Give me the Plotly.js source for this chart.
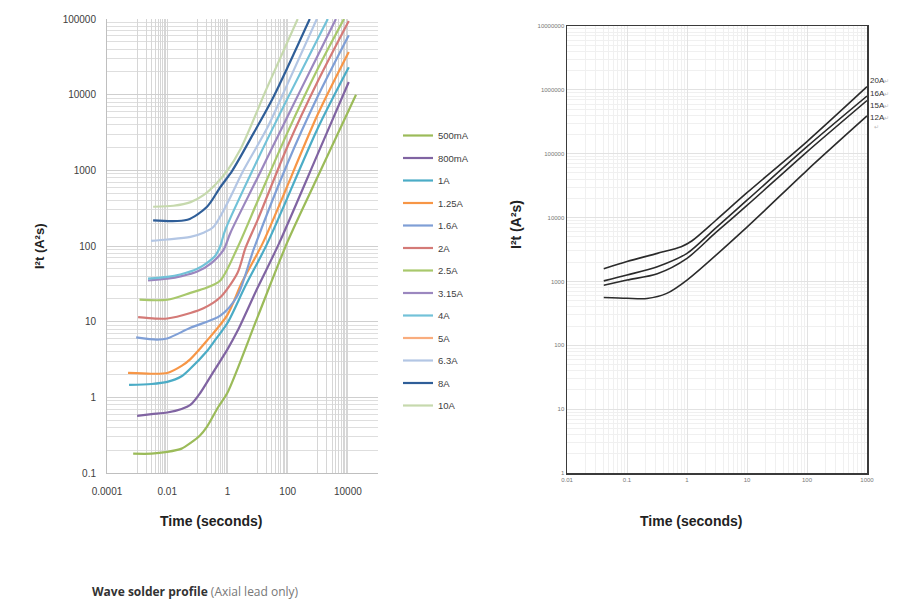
<!DOCTYPE html>
<html>
<head>
<meta charset="utf-8">
<script src="https://cdn.plot.ly/plotly-3.0.1.min.js"></script>
<style>
  html, body { margin: 0; padding: 0; background: #fff; }
  #chart { width: 921px; height: 611px; }
</style>
</head>
<body>
<div id="chart"></div>
<script>
// ---- Left chart: I²t vs time for each fuse rating ----
const fuseNames = ['500mA', '800mA', '1A', '1.25A', '1.6A', '2A', '2.5A', '3.15A', '4A', '5A', '6.3A', '8A', '10A'];

const t500mA = [0.00074, 0.003, 0.01, 0.03, 0.06, 0.12, 0.21, 0.5, 1, 10, 100, 1000, 18600];
const i2t500mA = [0.18, 0.18, 0.19, 0.21, 0.25, 0.31, 0.41, 0.75, 1.15, 11.5, 115, 830, 10000];

const t800mA = [0.001, 0.003, 0.01, 0.03, 0.06, 0.126, 0.3, 1, 2.15, 10, 50, 1000, 10700];
const i2t800mA = [0.57, 0.6, 0.63, 0.7, 0.8, 1.15, 2.0, 4.3, 7.5, 28, 105, 1650, 14700];

const t1A = [0.00054, 0.003, 0.01, 0.03, 0.059, 0.2, 0.4, 1, 4, 21.5, 1000, 10700];
const i2t1A = [1.46, 1.5, 1.6, 1.9, 2.4, 4.0, 5.8, 9.6, 30, 110, 3600, 23000];

const t1_25A = [0.0005, 0.003, 0.01, 0.03, 0.059, 0.2, 1, 3, 15, 1000, 10700];
const i2t1_25A = [2.1, 2.05, 2.1, 2.6, 3.2, 5.5, 12.3, 33, 110, 5500, 36700];

const t1_6A = [0.00093, 0.0046, 0.01, 0.059, 0.58, 2.15, 7.4, 100, 1000, 10700];
const i2t1_6A = [6.2, 5.8, 6.0, 8.3, 12, 22, 90, 1250, 9500, 61000];

const t2A = [0.00108, 0.004, 0.01, 0.059, 0.16, 0.58, 2.15, 4, 10, 100, 1000, 10700];
const i2t2A = [11.5, 11, 11, 13, 15, 21, 44, 95, 220, 2100, 15000, 94000];

const t2_5A = [0.0012, 0.01, 0.059, 0.2, 0.58, 2.15, 10, 100, 1000, 7400];
const i2t2_5A = [19.5, 19.5, 24, 28, 35, 95, 390, 3200, 22000, 100000];

const t3_15A = [0.0023, 0.01, 0.03, 0.1, 0.3, 0.74, 1.26, 10, 100, 1000, 4000];
const i2t3_15A = [35, 37, 40, 46, 60, 89, 150, 800, 5200, 33000, 100000];

const t4A = [0.0023, 0.01, 0.027, 0.1, 0.21, 0.4, 0.58, 0.83, 10, 100, 2150];
const i2t4A = [37, 39, 42, 50, 60, 75, 100, 160, 1380, 9000, 100000];

// 5A has no visible curve in the reference, only its legend entry
const t5A = [null];
const i2t5A = [null];

const t6_3A = [0.0029, 0.01, 0.059, 0.16, 0.34, 1, 3.4, 21.5, 100, 930];
const i2t6_3A = [117, 122, 132, 150, 178, 370, 1000, 3700, 14000, 100000];

const t8A = [0.0034, 0.047, 0.21, 0.58, 1.47, 7.4, 34, 540];
const i2t8A = [218, 222, 330, 600, 1000, 3100, 9400, 100000];

const t10A = [0.0034, 0.016, 0.06, 0.16, 0.4, 1, 2.7, 20, 215];
const i2t10A = [330, 340, 380, 470, 650, 1000, 1900, 12000, 100000];

const fuseTimes = [t500mA, t800mA, t1A, t1_25A, t1_6A, t2A, t2_5A, t3_15A, t4A, t5A, t6_3A, t8A, t10A];
const fuseI2t = [i2t500mA, i2t800mA, i2t1A, i2t1_25A, i2t1_6A, i2t2A, i2t2_5A, i2t3_15A, i2t4A, i2t5A, i2t6_3A, i2t8A, i2t10A];
const fuseColors = ['#9bbb59', '#8064a2', '#4bacc6', '#f79646', '#7f9fd6', '#d47a77', '#a8c86c',
                    '#9b87bf', '#72c2d8', '#f9ad7e', '#b3c6e4', '#2f5e98', '#c6d9ad'];

const leftXLabels = ['0.0001', '0.01', '1', '100', '10000'];
const leftYLabels = ['0.1', '1', '10', '100', '1000', '10000', '100000'];

// ---- Right chart: high-current ratings ----
const bigNames = ['20A', '16A', '15A', '12A'];

const t20A = [0.041, 0.1, 0.32, 0.8, 1.2, 3, 10, 100, 1000];
const i2t20A = [1585, 2050, 2750, 3500, 4300, 9000, 24500, 155000, 1120000];

const t16A = [0.041, 0.1, 0.32, 1, 3, 10, 100, 1000];
const i2t16A = [1020, 1260, 1700, 2750, 6850, 18700, 129000, 800000];

const t15A = [0.041, 0.1, 0.32, 1, 3, 10, 100, 1000];
const i2t15A = [870, 1050, 1320, 2300, 5800, 15500, 107000, 680000];

const t12A = [0.041, 0.1, 0.215, 0.46, 1, 10, 100, 1000];
const i2t12A = [560, 545, 540, 650, 1050, 7100, 55000, 390000];

const bigTimes = [t20A, t16A, t15A, t12A];
const bigI2t = [i2t20A, i2t16A, i2t15A, i2t12A];

const rightXLabels = ['0.01', '0.1', '1', '10', '100', '1000'];
const rightYLabels = ['1', '10', '100', '1000', '10000', '100000', '1000000', '10000000'];

// gridline positions for left x axis: every decade, plus 2..9 only in alternate decades
function leftXGrid() {
    const vals = [];
    const text = [];
    for (let d = -4; d <= 5; d++) {
        vals.push(Math.pow(10, d));
        text.push(d % 2 === 0 && d <= 4 ? leftXLabels[(d + 4) / 2] : '');
        if (d % 2 !== 0 && d < 5) {
            for (let k = 2; k <= 9; k++) {
                vals.push(k * Math.pow(10, d));
                text.push('');
            }
        }
    }
    return { vals, text };
}

const W = 921, H = 611;
const px = v => v / W;
const py = v => (H - v) / H;

const traces = [];
fuseNames.forEach((name, i) => {
    traces.push({
        x: fuseTimes[i],
        y: fuseI2t[i],
        name: name,
        type: 'scatter',
        mode: 'lines',
        line: { color: fuseColors[i], width: 2.2, shape: 'spline', smoothing: 0.8 },
        xaxis: 'x', yaxis: 'y',
        legendgroup: name
    });
});
bigNames.forEach((name, i) => {
    traces.push({
        x: bigTimes[i],
        y: bigI2t[i],
        name: name,
        type: 'scatter',
        mode: 'lines',
        line: { color: '#2b2b2b', width: 1.6, shape: 'spline', smoothing: 0.8 },
        xaxis: 'x2', yaxis: 'y2',
        showlegend: false
    });
});

const lg = leftXGrid();
const tickFont = { family: 'Liberation Sans Narrow, Liberation Sans, Arial, sans-serif', size: 10, color: '#404040' };
const smallFont = { family: 'Liberation Sans, Arial, sans-serif', size: 6, color: '#777' };
const titleFont = { family: 'Liberation Sans, Arial, sans-serif', size: 14, color: '#222' };

const labelAnnotations = bigNames.map((name, i) => ({
    xref: 'paper', yref: 'paper',
    x: px(868), y: py(81 + i * 12.2),
    xanchor: 'left', yanchor: 'middle',
    text: name + '<span style="color:#bbb;font-size:6px">↵</span>',
    showarrow: false,
    font: { family: 'Liberation Sans, Arial, sans-serif', size: 8, color: '#333' }
}));

function centered(x, y, text, font, angle) {
    return {
        xref: 'paper', yref: 'paper', x: px(x), y: py(y),
        xanchor: 'center', yanchor: 'middle',
        text: text, textangle: angle || 0, showarrow: false, font: font
    };
}

const layout = {
    width: W, height: H,
    margin: { l: 0, r: 0, t: 0, b: 0 },
    paper_bgcolor: '#fff',
    plot_bgcolor: '#fff',
    showlegend: true,
    legend: {
        x: px(398), y: py(121), xanchor: 'left', yanchor: 'top',
        font: { family: 'Liberation Sans Narrow, Liberation Sans, Arial, sans-serif', size: 9.5, color: '#404040' },
        tracegroupgap: 3.5,
        bgcolor: 'rgba(0,0,0,0)'
    },
    xaxis: {
        type: 'log', domain: [px(107), px(378)], range: [-4, 5],
        tickmode: 'array', tickvals: lg.vals, ticktext: lg.text,
        showgrid: true, gridcolor: '#d6d6d6', gridwidth: 1,
        showline: true, linecolor: '#bfbfbf', zeroline: false,
        ticks: '', ticklabelstandoff: 9, tickfont: tickFont, anchor: 'y', fixedrange: true
    },
    yaxis: {
        type: 'log', domain: [py(473), py(19)], range: [-1, 5],
        tickmode: 'array',
        tickvals: leftYLabels.map(Number), ticktext: leftYLabels,
        showgrid: true, gridcolor: '#cfcfcf', gridwidth: 1,
        minor: { dtick: 'D1', showgrid: true, gridcolor: '#dedede', ticks: '' },
        showline: true, linecolor: '#bfbfbf', zeroline: false,
        ticks: '', ticklabelstandoff: 8, tickfont: tickFont, anchor: 'x', fixedrange: true
    },
    xaxis2: {
        type: 'log', domain: [px(567), px(867)], range: [-2, 3],
        tickmode: 'array',
        tickvals: rightXLabels.map(Number), ticktext: rightXLabels,
        showgrid: true, gridcolor: '#e2e2e2',
        minor: { dtick: 'D1', showgrid: true, gridcolor: '#f0f0f0', ticks: '' },
        showline: true, mirror: true, linecolor: '#3a3a3a', linewidth: 1.5,
        zeroline: false, ticks: '', tickfont: smallFont, anchor: 'y2', fixedrange: true
    },
    yaxis2: {
        type: 'log', domain: [py(473), py(26)], range: [0, 7],
        tickmode: 'array',
        tickvals: rightYLabels.map(Number), ticktext: rightYLabels,
        showgrid: true, gridcolor: '#e2e2e2',
        minor: { dtick: 'D1', showgrid: true, gridcolor: '#f0f0f0', ticks: '' },
        showline: true, mirror: true, linecolor: '#3a3a3a', linewidth: 1.5,
        zeroline: false, ticks: '', tickfont: smallFont, anchor: 'x2', fixedrange: true
    },
    annotations: [
        centered(40, 246, '<b>I²t (A²s)</b>', Object.assign({}, titleFont, { size: 13 }), -90),
        centered(211, 521, '<b>Time (seconds)</b>', titleFont),
        centered(516, 225, '<b>I²t (A²s)</b>', titleFont, -90),
        centered(691, 521, '<b>Time (seconds)</b>', titleFont),
        {
            xref: 'paper', yref: 'paper', x: px(872), y: py(127),
            xanchor: 'left', yanchor: 'middle', text: '↵', showarrow: false,
            font: { family: 'DejaVu Sans, sans-serif', size: 6, color: '#bbb' }
        },
        {
            xref: 'paper', yref: 'paper', x: px(90), y: py(591),
            xanchor: 'left', yanchor: 'middle',
            text: '<b>Wave solder profile</b> <span style="color:#777">(Axial lead only)</span>',
            showarrow: false,
            font: { family: 'Open Sans, Liberation Sans, sans-serif', size: 12, color: '#333' }
        }
    ].concat(labelAnnotations)
};

Plotly.newPlot('chart', traces, layout, { displayModeBar: false, staticPlot: true });
</script>
</body>
</html>
